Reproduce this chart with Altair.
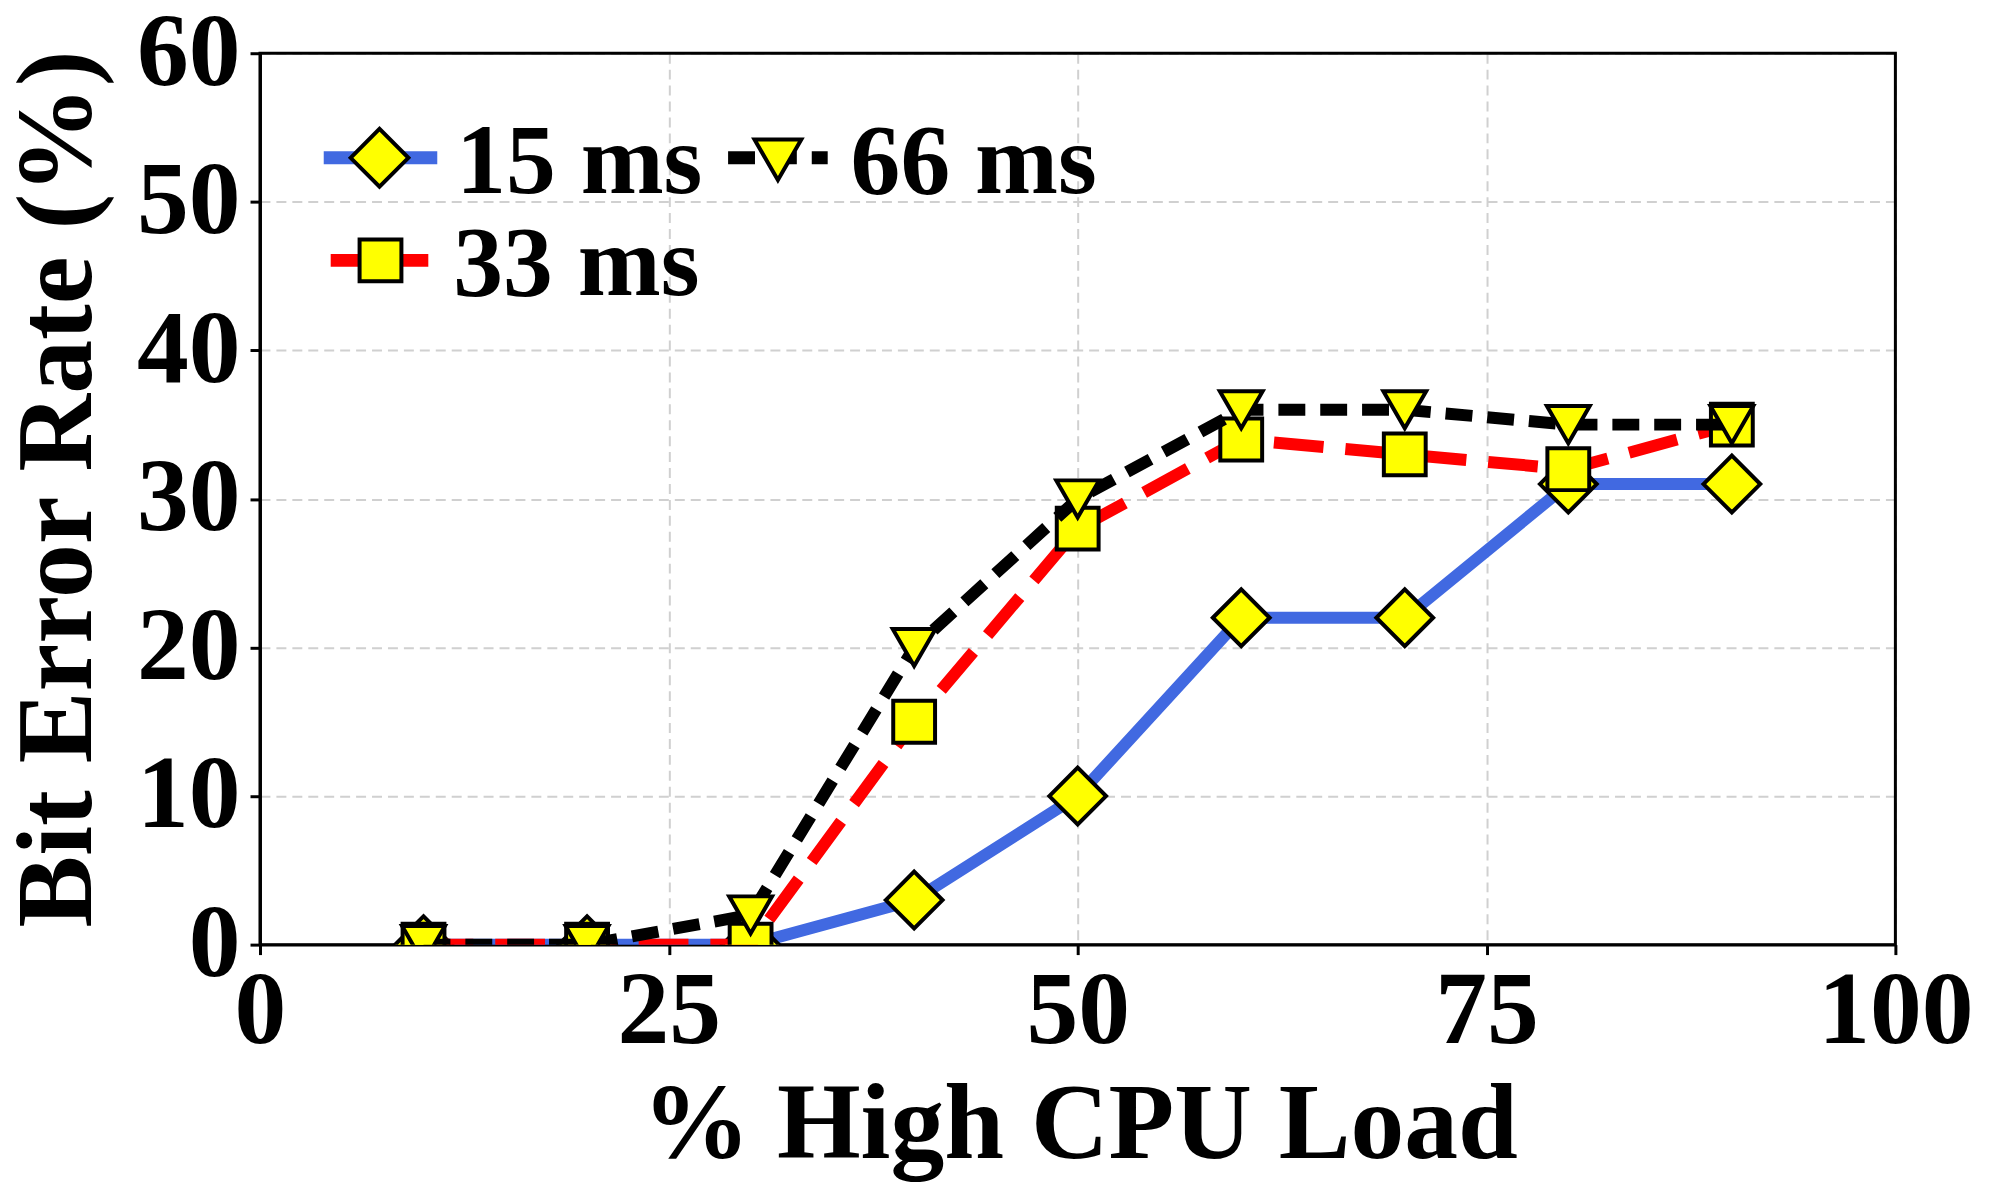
import altair as alt
import pandas as pd

# ---- data ----
load = [10, 20, 30, 40, 50, 60, 70, 80, 90]
ber_15 = [0, 0, 0, 3, 10, 22, 22, 31, 31]
ber_33 = [0, 0, 0, 15, 28, 34, 33, 32, 35]
ber_66 = [0, 0, 2, 20, 30, 36, 36, 35, 35]
series = ["15 ms", "33 ms", "66 ms"]
x_ticks = [0, 25, 50, 75, 100]
y_ticks = [0, 10, 20, 30, 40, 50, 60]

values = {"15 ms": ber_15, "33 ms": ber_33, "66 ms": ber_66}

FONT = "Liberation Serif"
W, H = 1642, 895

styles = {
    "15 ms": dict(color="#4169E1", dash=None, ldash=None, shape="diamond", size=3249, lsize=3364),
    "33 ms": dict(color="#FF0000", dash=[50, 22], ldash=[40, 18], shape="square", size=1764, lsize=1764),
    "66 ms": dict(color="#000000", dash=[27, 15], ldash=[27, 15], shape="triangle-down", size=1849, lsize=2209),
}

# legend placement (pixels relative to the plot area)
legend_pos = {
    "15 ms": dict(x1=64, x2=178, xm=120, y=105, ym=105, xt=197, yt=140),
    "66 ms": dict(x1=470, x2=570, xm=520, y=105, ym=107, xt=593, yt=140),
    "33 ms": dict(x1=71, x2=172, xm=121, y=208, ym=208, xt=194, yt=243),
}

x_enc = alt.X(
    "load:Q",
    scale=alt.Scale(domain=[0, 100], nice=False, zero=False),
    axis=alt.Axis(
        values=x_ticks,
        title="% High CPU Load",
        labelFlush=False,
        labelPadding=6,
        labelOverlap=False,
        titleX=823,
        titleY=214,
        titleBaseline="alphabetic",
        titleAlign="center",
    ),
)
y_enc = alt.Y(
    "ber:Q",
    scale=alt.Scale(domain=[0, 60], nice=False),
    axis=alt.Axis(
        values=y_ticks,
        title="Bit Error Rate (%)",
        labelPadding=10,
        labelOverlap=False,
        titleX=-170,
        titleY=437,
        titleAngle=270,
        titleBaseline="alphabetic",
        titleAlign="center",
    ),
)

one = pd.DataFrame({"k": [0]})
layers = [
    alt.Chart(one).mark_rect(fillOpacity=0, stroke="black", strokeWidth=3).encode(
        x=alt.value(0), x2=alt.value(W), y=alt.value(0), y2=alt.value(H)
    )
]

for s in series:
    st = styles[s]
    df = pd.DataFrame({"load": load, "ber": values[s], "series": s})
    line_kw = dict(color=st["color"], strokeWidth=12, clip=True, strokeJoin="round", strokeCap="butt")
    if st["dash"]:
        line_kw["strokeDash"] = st["dash"]
    line = alt.Chart(df).mark_line(**line_kw).encode(x=x_enc, y=y_enc)
    pts = alt.Chart(df).mark_point(
        shape=st["shape"], size=st["size"], filled=True, fill="#FFFF00",
        stroke="black", strokeWidth=4, opacity=1, clip=True,
    ).encode(x=x_enc, y=y_enc)
    layers += [line, pts]

# manual legend (line + marker + label)
for s in ["15 ms", "66 ms", "33 ms"]:
    st = styles[s]
    p = legend_pos[s]
    ldf = pd.DataFrame({"label": [s]})
    rule_kw = dict(color=st["color"], strokeWidth=13, strokeCap="butt")
    if st["ldash"]:
        rule_kw["strokeDash"] = st["ldash"]
    layers.append(
        alt.Chart(ldf).mark_rule(**rule_kw).encode(
            x=alt.value(p["x1"]), x2=alt.value(p["x2"]), y=alt.value(p["y"])
        )
    )
    layers.append(
        alt.Chart(ldf).mark_point(
            shape=st["shape"], size=st["lsize"], filled=True, fill="#FFFF00",
            stroke="black", strokeWidth=4, opacity=1,
        ).encode(x=alt.value(p["xm"]), y=alt.value(p["ym"]))
    )
    layers.append(
        alt.Chart(ldf).mark_text(
            align="left", baseline="alphabetic", font=FONT, fontSize=100,
            fontWeight="bold", color="black",
        ).encode(x=alt.value(p["xt"]), y=alt.value(p["yt"]), text="label:N")
    )

chart = (
    alt.layer(*layers)
    .properties(
        width=W,
        height=H,
        padding={"left": 253, "top": 43, "right": 97, "bottom": 254},
        autosize=alt.AutoSizeParams(type="none"),
        background="white",
    )
    .configure_view(stroke=None)
    .configure_axis(
        labelFont=FONT,
        labelFontSize=104,
        labelFontWeight="bold",
        labelColor="black",
        titleFont=FONT,
        titleFontSize=108,
        titleFontWeight="bold",
        titleColor="black",
        grid=True,
        gridColor="#d0d0d0",
        gridDash=[10, 6],
        gridWidth=2,
        tickColor="black",
        tickWidth=3,
        tickSize=10,
        domainColor="black",
        domainWidth=3,
    )
)

chart.save("out.html", embed_options={"renderer": "svg", "actions": False})
